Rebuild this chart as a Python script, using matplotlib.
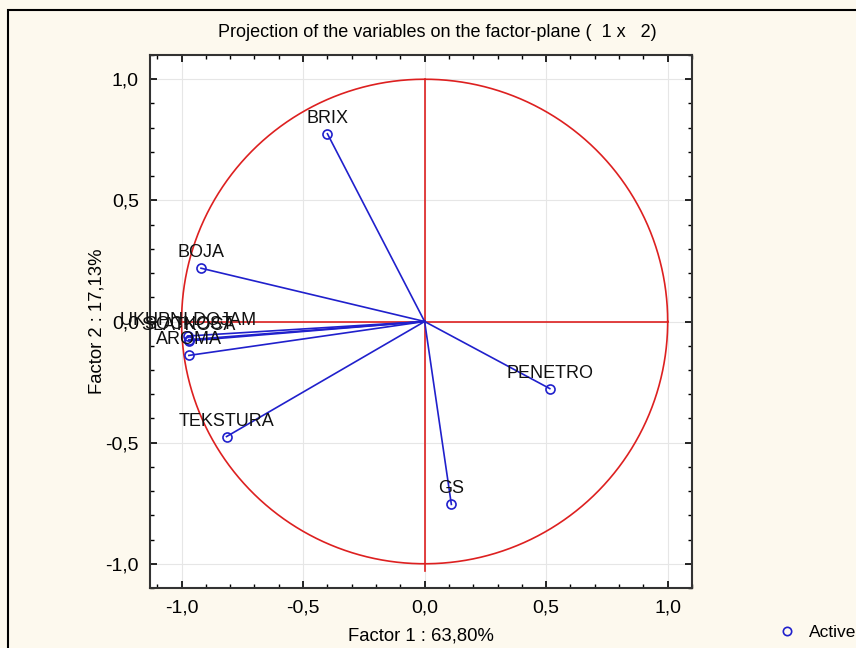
import matplotlib.pyplot as plt
import matplotlib.ticker as mticker
from matplotlib.patches import Rectangle
from matplotlib.lines import Line2D
import numpy as np

# Coordenadas das variaveis no plano fatorial
variables = ["BRIX", "BOJA", "UKUPNI DOJAM", "SOCNOST", "SLATKOCA", "AROMA",
             "TEKSTURA", "PENETRO", "GS"]
factor1 = [-0.40, -0.92, -0.975, -0.97, -0.97, -0.97, -0.815, 0.515, 0.11]
factor2 = [0.775, 0.22, -0.06, -0.075, -0.08, -0.14, -0.475, -0.277, -0.755]

title = "Projection of the variables on the factor-plane (  1 x   2)"
xlabel = "Factor 1 : 63,80%"
ylabel = "Factor 2 : 17,13%"

plt.rcParams['font.family'] = ['Liberation Sans', 'DejaVu Sans']

bg = "#fdf9ee"
fig = plt.figure(figsize=(8.56, 6.48), dpi=100, facecolor=bg)
ax = fig.add_axes([0.1752, 0.0926, 0.6332, 0.8225])
ax.set_facecolor("white")

# Moldura da figura
fig.patches.append(Rectangle((8 / 856, -0.1), 1.2, 1.1 - 10 / 648,
                             transform=fig.transFigure, fill=False,
                             edgecolor="black", linewidth=1.5, zorder=0))

# Circulo de correlacao e eixos vermelhos
theta = np.linspace(0, 2 * np.pi, 400)
ax.plot(np.cos(theta), np.sin(theta), color="#dd2020", linewidth=1.2, zorder=2)
ax.plot([-1.0, 1.0], [0, 0], color="#dd2020", linewidth=1.2, zorder=2)
ax.plot([0, 0], [-1.03, 1.0], color="#dd2020", linewidth=1.2, zorder=2)

# Vetores das variaveis
for name, x, y in zip(variables, factor1, factor2):
    ax.plot([0, x], [0, y], color="#2020cc", linewidth=1.2, zorder=3)
    ax.annotate(name, (x, y), xytext=(0, 5), textcoords="offset points",
                ha="center", va="bottom", fontsize=13, color="#111111", zorder=5)
ax.plot(factor1, factor2, linestyle="none", marker="o", markersize=6.5,
        markerfacecolor="none", markeredgecolor="#2020cc", markeredgewidth=1.2, zorder=4)

ax.set_xlim(-1.13, 1.10)
ax.set_ylim(-1.10, 1.10)

ax.xaxis.set_major_locator(mticker.MultipleLocator(0.5))
ax.yaxis.set_major_locator(mticker.MultipleLocator(0.5))
ax.xaxis.set_minor_locator(mticker.MultipleLocator(0.1))
ax.yaxis.set_minor_locator(mticker.MultipleLocator(0.1))
fmt = mticker.FuncFormatter(lambda v, p: f"{v:.1f}".replace(".", ",").replace("-0,0", "0,0"))
ax.xaxis.set_major_formatter(fmt)
ax.yaxis.set_major_formatter(fmt)
ax.tick_params(which="both", direction="in", top=True, right=True, labelsize=14)
ax.tick_params(which="major", length=5, width=1.2, pad=8)
ax.tick_params(which="minor", length=3, width=1.0)
ax.grid(which="major", color="#e6e6e6", linewidth=0.8, zorder=0)
ax.set_axisbelow(True)
for s in ax.spines.values():
    s.set_linewidth(1.5)
    s.set_color("#333333")

ax.set_title(title, fontsize=13, pad=13, x=0.53)
ax.set_xlabel(xlabel, fontsize=13.3, labelpad=8)
ax.set_ylabel(ylabel, fontsize=13.3, labelpad=0)

handle = Line2D([], [], linestyle="none", marker="o", markersize=6,
                markerfacecolor="none", markeredgecolor="#2020cc", markeredgewidth=1.2)
fig.legend([handle], ["Active"], loc="lower right", bbox_to_anchor=(1.019, -0.012),
           frameon=False, fontsize=12.5, handletextpad=0.3)

fig.savefig("out.png", dpi=100, facecolor=bg)
